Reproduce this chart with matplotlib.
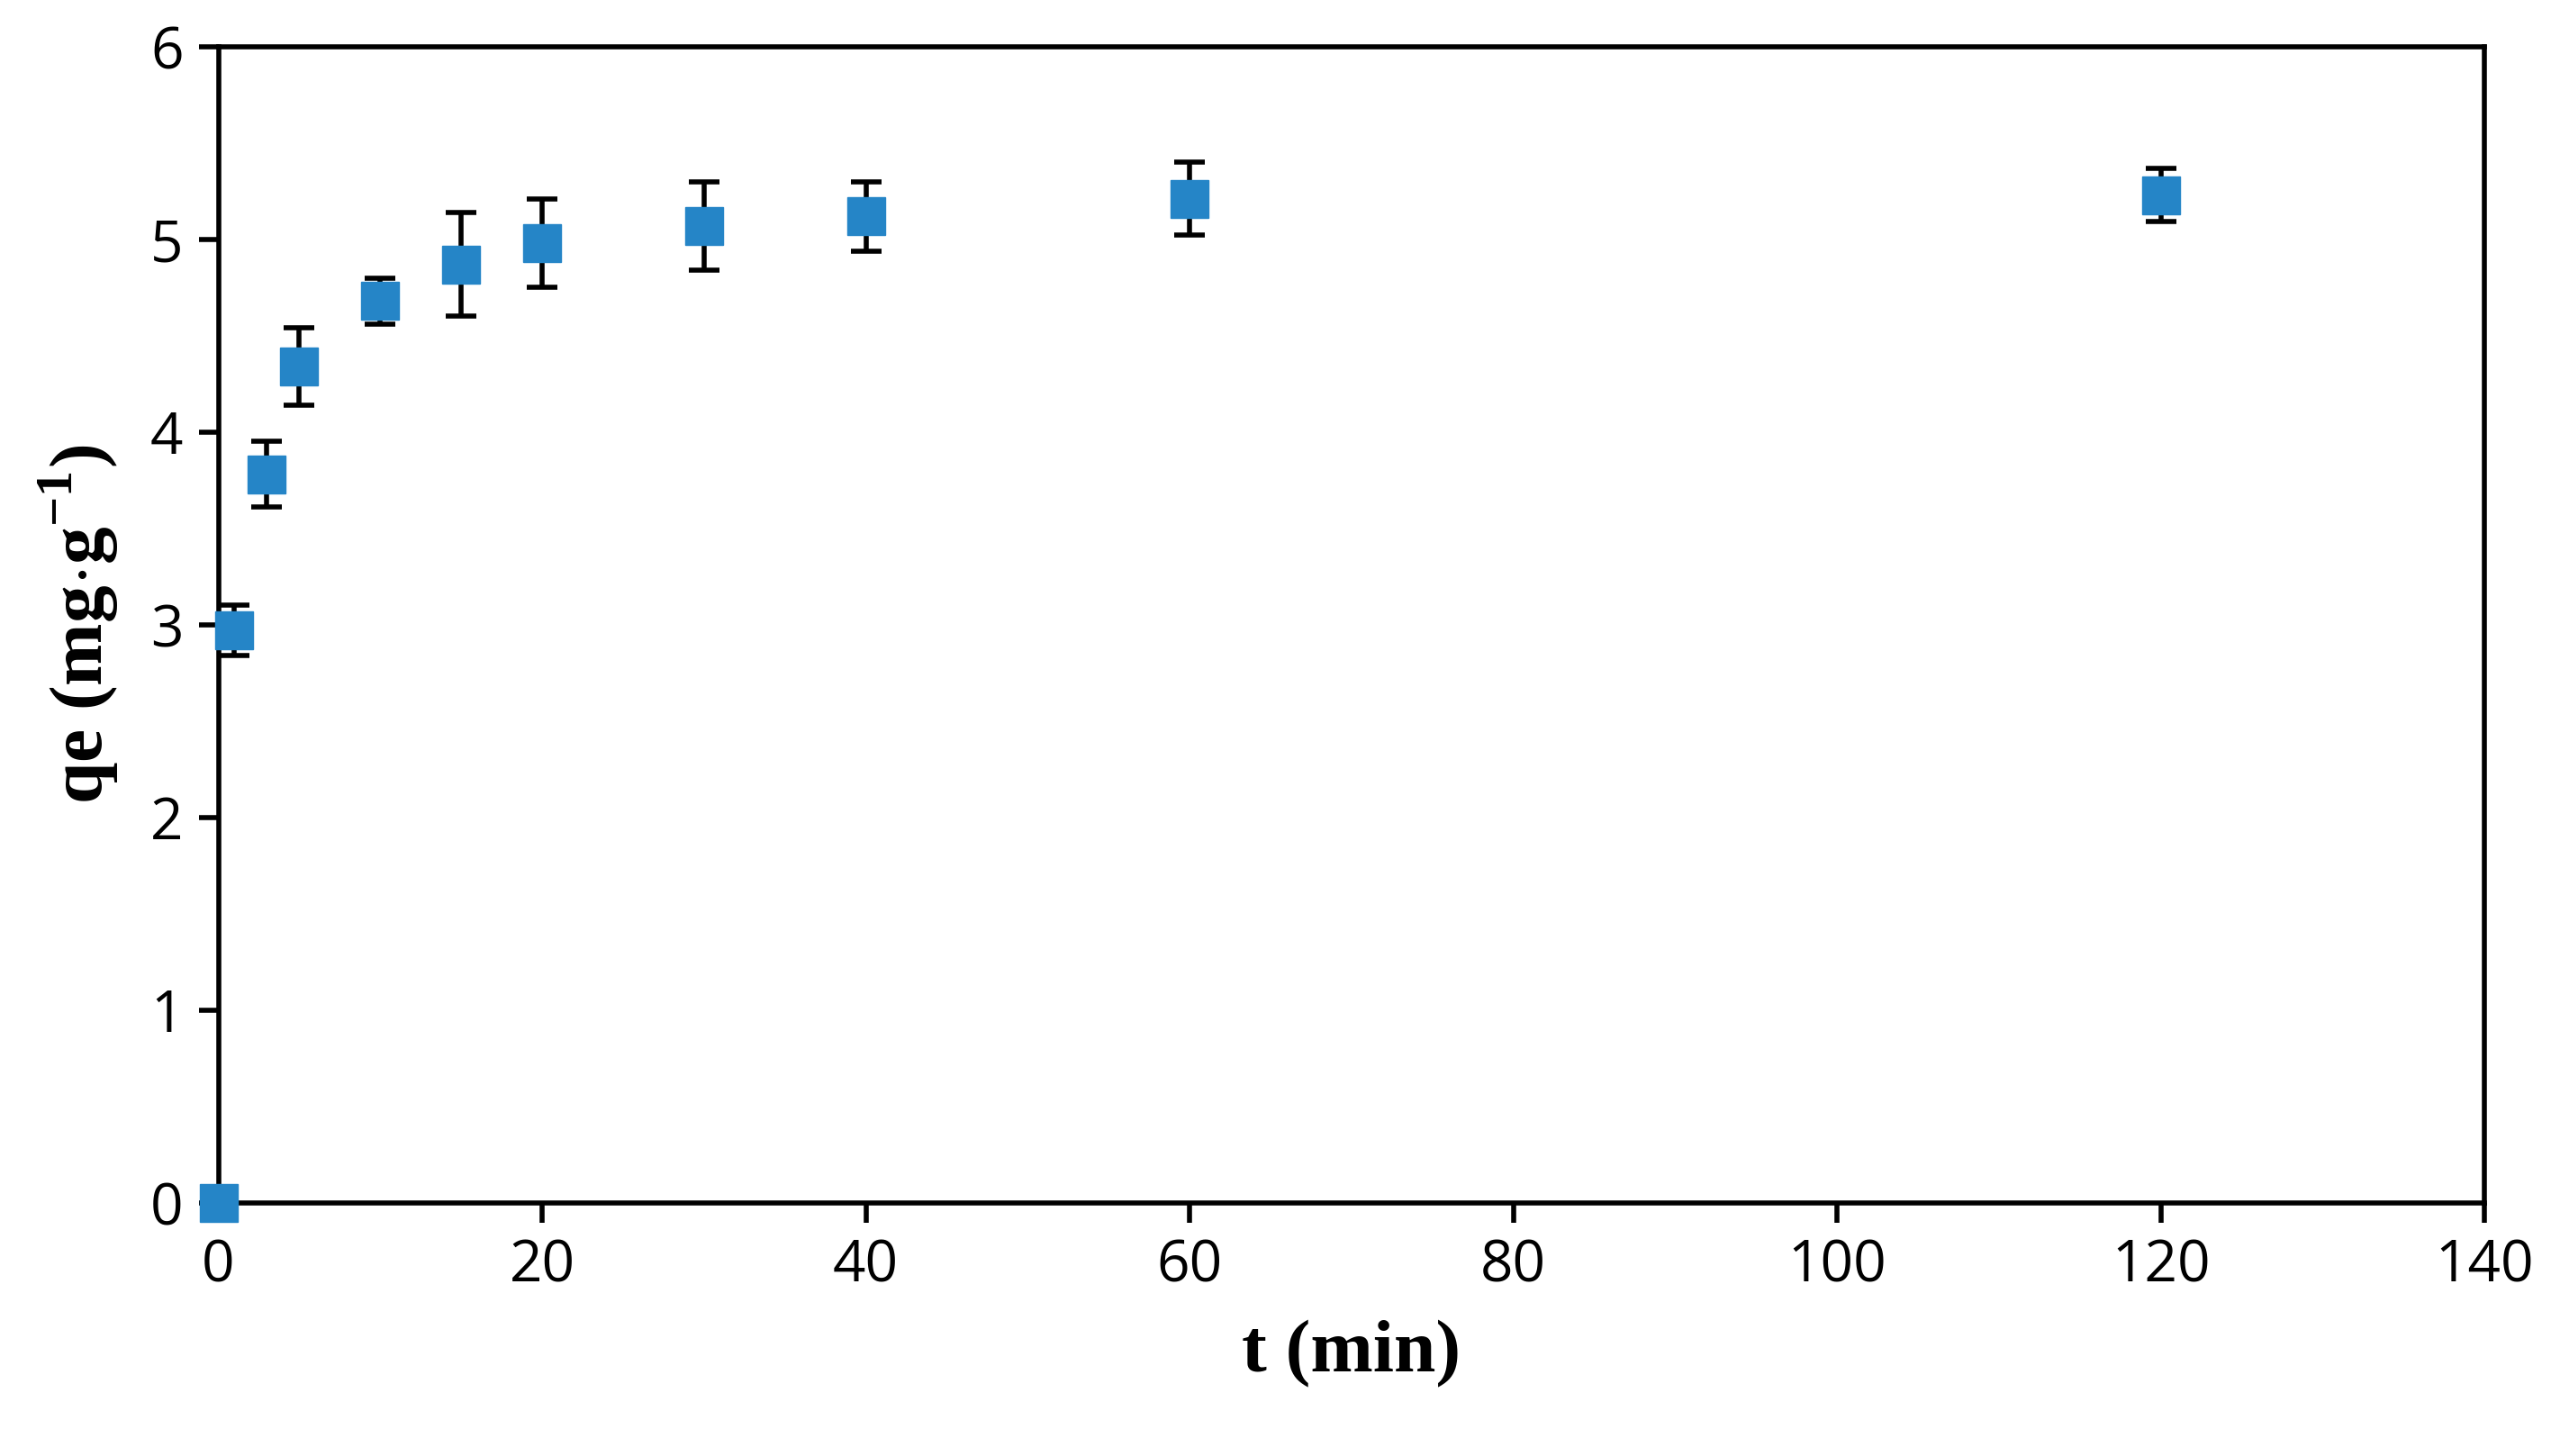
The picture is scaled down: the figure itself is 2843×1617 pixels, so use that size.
import matplotlib
matplotlib.use("Agg")
import matplotlib.pyplot as plt

t = [0, 1, 3, 5, 10, 15, 20, 30, 40, 60, 120]
qe = [0, 2.97, 3.78, 4.34, 4.68, 4.87, 4.98, 5.07, 5.12, 5.21, 5.23]
err = [0, 0.13, 0.17, 0.2, 0.12, 0.27, 0.23, 0.23, 0.18, 0.19, 0.14]

plt.rcParams['mathtext.fontset'] = 'custom'
plt.rcParams['mathtext.rm'] = 'Liberation Serif:bold'
plt.rcParams['mathtext.bf'] = 'Liberation Serif:bold'

fig = plt.figure(figsize=(28.43, 16.17), dpi=100)
ax = fig.add_axes([0.0853, 0.174, 0.8892 - 0.004, 0.794])
ax.errorbar(t, qe, yerr=err, fmt='none', ecolor='black', elinewidth=4, capsize=12, capthick=4, zorder=2)
ax.plot(t, qe, 's', color='#2585C7', markersize=30, zorder=3, clip_on=False)
ax.set_xlim(0, 140)
ax.set_ylim(0, 6)
ax.set_xticks(range(0, 141, 20))
ax.set_yticks(range(0, 7))
for s in ax.spines.values():
    s.set_linewidth(4)
ax.tick_params(direction='out', length=16, width=4, labelsize=46, pad=12)
for lab in ax.get_xticklabels() + ax.get_yticklabels():
    lab.set_fontfamily('Open Sans')
ax.set_xlabel('t (min)', fontsize=60, fontweight='bold', family='Liberation Serif', labelpad=20)
ax.set_ylabel(r'qe (mg$\cdot$g$^{\mathrm{-1}}$)', fontsize=60, fontweight='bold', family='Liberation Serif', labelpad=24)
fig.savefig('out.png', dpi=100)
